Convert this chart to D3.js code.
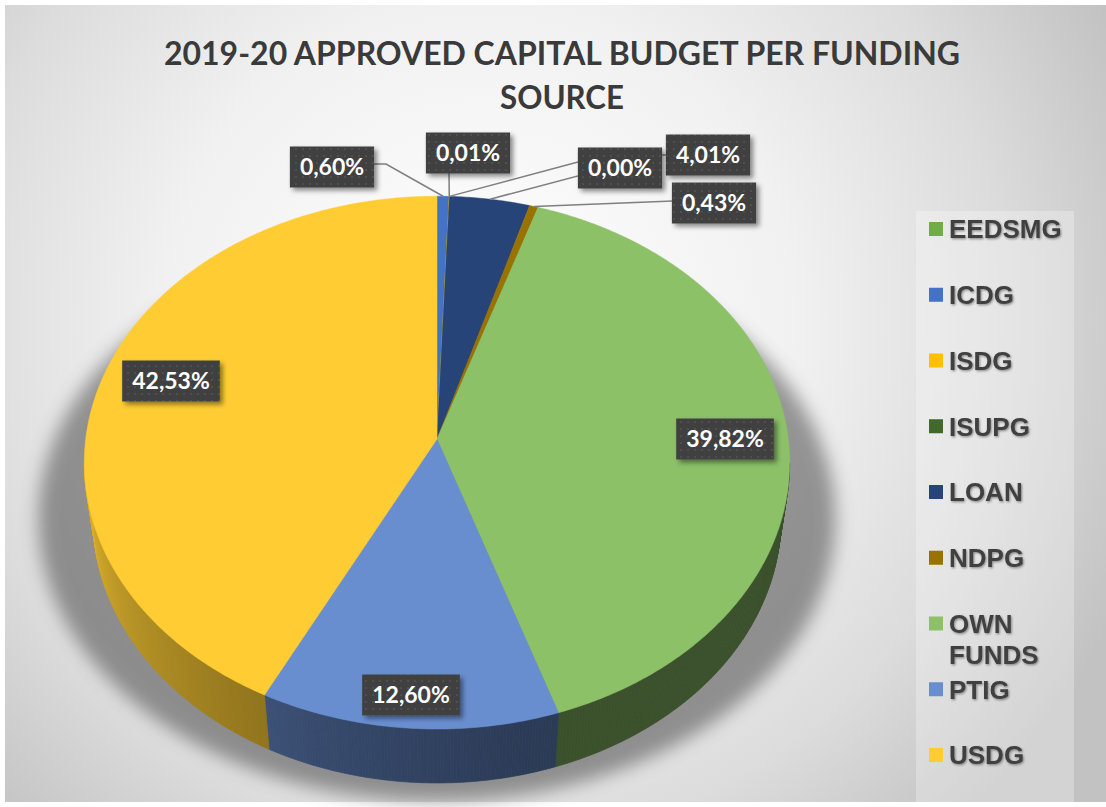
<!DOCTYPE html>
<html>
<head>
<meta charset="utf-8">
<script src="https://cdn.jsdelivr.net/npm/d3@7"></script>
<style>
  html, body { margin: 0; padding: 0; background: #ffffff; }
  svg { display: block; }
</style>
</head>
<body>
<svg id="chart" width="1106" height="807"></svg>
<script>
// ---- data ----
const categories = ["EEDSMG", "ICDG", "ISDG", "ISUPG", "LOAN", "NDPG", "OWN FUNDS", "PTIG", "USDG"];
const shares = [null, 0.60, 0.01, 0.00, 4.01, 0.43, 39.82, 12.60, 42.53];   // % of capital budget
const colors = ["#70AD47", "#4472C4", "#FFC000", "#43682B", "#264478", "#997300", "#8CC168", "#698ED0", "#FFCD33"];
const titleLines = ["2019-20 APPROVED CAPITAL BUDGET PER FUNDING", "SOURCE"];

// ---- label layout (box centres, leader start / elbow points) ----
const labelLayout = {
  "ICDG":      { cx: 332, cy: 167, from: [374, 164], elbow: [386, 164] },
  "ISDG":      { cx: 468, cy: 153, from: [449, 173] },
  "LOAN":      { cx: 708, cy: 155, from: [666, 155], elbow: [657, 155] },
  "ISUPG":     { cx: 620, cy: 168, from: [578, 162] },
  "NDPG":      { cx: 714, cy: 203, from: [673, 201] },
  "OWN FUNDS": { cx: 725, cy: 439 },
  "PTIG":      { cx: 411, cy: 695 },
  "USDG":      { cx: 171, cy: 381 }
};

const W = 1106, H = 807;
const svg = d3.select("#chart");
const defs = svg.append("defs");

// background radial gradient
const bgGrad = defs.append("radialGradient").attr("id", "bgGrad")
  .attr("gradientUnits", "userSpaceOnUse")
  .attr("cx", 480).attr("cy", 320).attr("r", 700);
[[0, "#ffffff"], [0.45, "#f1f1f1"], [0.75, "#dcdcdc"], [1, "#c2c2c2"]]
  .forEach(([o, c]) => bgGrad.append("stop").attr("offset", o).attr("stop-color", c));

// soft shadow under the pie
defs.append("filter").attr("id", "pieShadow")
  .attr("x", "-30%").attr("y", "-30%").attr("width", "160%").attr("height", "160%")
  .append("feGaussianBlur").attr("stdDeviation", 9);

// drop shadow for the value boxes
defs.append("filter").attr("id", "boxShadow")
  .attr("x", "-20%").attr("y", "-30%").attr("width", "150%").attr("height", "180%")
  .append("feDropShadow").attr("dx", 3).attr("dy", 3).attr("stdDeviation", 2.5)
  .attr("flood-color", "#000").attr("flood-opacity", 0.45);

// light text shadow for legend entries
defs.append("filter").attr("id", "textShadow")
  .attr("x", "-10%").attr("y", "-30%").attr("width", "130%").attr("height", "170%")
  .append("feDropShadow").attr("dx", 1).attr("dy", 1.2).attr("stdDeviation", 1.2)
  .attr("flood-color", "#000").attr("flood-opacity", 0.4);

// dotted texture used on the value boxes
const pat = defs.append("pattern").attr("id", "dots")
  .attr("patternUnits", "userSpaceOnUse").attr("width", 7).attr("height", 7);
pat.append("rect").attr("width", 7).attr("height", 7).attr("fill", "#404040");
pat.append("circle").attr("cx", 2).attr("cy", 2).attr("r", 0.9).attr("fill", "#575757");

// ---- background ----
svg.append("rect").attr("width", W).attr("height", H).attr("fill", "#ffffff");
svg.append("rect").attr("x", 5).attr("y", 5).attr("width", W - 5).attr("height", H - 10)
  .attr("fill", "url(#bgGrad)");

// ---- title ----
const titleFont = "Lato, 'Open Sans', sans-serif";
svg.append("text").attr("x", 562).attr("y", 65).attr("text-anchor", "middle")
  .attr("font-family", titleFont).attr("font-weight", 700).attr("font-size", 33)
  .attr("fill", "#3a3a3a").attr("textLength", 796).attr("lengthAdjust", "spacingAndGlyphs")
  .text(titleLines[0]);
svg.append("text").attr("x", 562).attr("y", 109).attr("text-anchor", "middle")
  .attr("font-family", titleFont).attr("font-weight", 700).attr("font-size", 33)
  .attr("fill", "#3a3a3a").attr("textLength", 124).attr("lengthAdjust", "spacingAndGlyphs")
  .text(titleLines[1]);

// ---- 3-D pie projection ----
const cam = { cx: 437, cy: 439, f: 2610, D: 7.43, tilt: 48.8 * Math.PI / 180, depth: 0.25 };
const sT = Math.sin(cam.tilt), cT = Math.cos(cam.tilt);
// theta: clockwise from 12 o'clock, rho: radius fraction, y: 0 top face, -depth bottom
function project(theta, rho, y) {
  const X = rho * Math.sin(theta), Z = -rho * Math.cos(theta);
  const dist = cam.D - (y * sT + Z * cT);
  const up = y * cT - Z * sT;
  return [cam.cx + cam.f * X / dist, cam.cy - cam.f * up / dist];
}
const step = 0.5 * Math.PI / 180;
function rim(a, b, y) {
  const n = Math.max(2, Math.ceil((b - a) / step));
  return d3.range(n + 1).map(i => project(a + (b - a) * i / n, 1, y));
}
const line = d3.line();

const slices = d3.pie().sort(null).value(d => d.value)(
  categories.map((name, i) => ({ name, value: shares[i] == null ? 0 : shares[i], share: shares[i], color: colors[i] }))
);

const pieG = svg.append("g");

// shadow: the pie outline widened and pushed down, then blurred
const outline = rim(0, 2 * Math.PI, 0);
const topY = d3.min(outline, p => p[1]);
pieG.append("path")
  .attr("d", line(outline.map(([x, y]) => [437 + (x - 437) * 1.13, topY + 40 + (y - topY) * 1.06])) + "Z")
  .attr("fill", "#4a4a4a").attr("opacity", 0.55).attr("filter", "url(#pieShadow)");

// outer side walls (front half only)
const thetaSil = Math.acos(-cT / cam.D);
function shadeFactor(theta) {
  const deg = theta * 180 / Math.PI;
  const t = Math.max(0, Math.min(1, (deg - 165) / 95));
  return 0.42 + 0.43 * Math.pow(t, 1.3);
}
const wallG = pieG.append("g");
slices.forEach(s => {
  const a = Math.max(s.startAngle, thetaSil), b = Math.min(s.endAngle, 2 * Math.PI - thetaSil);
  if (b <= a) return;
  const n = Math.max(1, Math.ceil((b - a) / step));
  const quads = d3.range(n).map(i => {
    const t0 = a + (b - a) * i / n, t1 = a + (b - a) * (i + 1) / n;
    return { pts: [project(t0, 1, 0), project(t1, 1, 0), project(t1, 1, -cam.depth), project(t0, 1, -cam.depth)],
             col: d3.interpolateRgb("#000000", s.data.color)(shadeFactor((t0 + t1) / 2)) };
  });
  wallG.selectAll(null).data(quads).enter().append("path")
    .attr("d", q => line(q.pts) + "Z")
    .attr("fill", q => q.col).attr("stroke", q => q.col).attr("stroke-width", 0.7);
});

// top faces
pieG.append("g").selectAll("path").data(slices.filter(s => s.endAngle > s.startAngle)).enter()
  .append("path")
  .attr("d", s => line([project(0, 0, 0), ...rim(s.startAngle, s.endAngle, 0)]) + "Z")
  .attr("fill", s => s.data.color)
  .attr("stroke", s => s.data.color).attr("stroke-width", 0.5);

// ---- value labels ----
const fmt = v => d3.format(".2f")(v).replace(".", ",") + "%";
const labelled = slices.filter(s => s.data.share != null && labelLayout[s.data.name]);
const leaderG = svg.append("g");
const boxG = svg.append("g");

// leader lines first so the boxes sit on top of them
labelled.forEach(s => {
  const L = labelLayout[s.data.name];
  if (!L.from) return;
  const mid = (s.startAngle + s.endAngle) / 2;
  const pts = [L.from];
  if (L.elbow) pts.push(L.elbow);
  pts.push(project(mid, 1, 0));
  leaderG.append("path").attr("d", line(pts))
    .attr("fill", "none").attr("stroke", "#7f7f7f").attr("stroke-width", 1.5);
});

// draw order: LOAN before ISUPG so its leader passes under the 0,00% box
const order = ["ICDG", "ISDG", "LOAN", "ISUPG", "NDPG", "OWN FUNDS", "PTIG", "USDG"];
order.forEach(name => {
  const s = labelled.find(d => d.data.name === name);
  if (!s) return;
  const L = labelLayout[name];
  const g = boxG.append("g");
  const rect = g.append("rect");
  const txt = g.append("text")
    .attr("x", L.cx).attr("y", L.cy).attr("dy", "0.36em")
    .attr("text-anchor", "middle")
    .attr("font-family", "Lato, 'Open Sans', sans-serif").attr("font-weight", 700)
    .attr("font-size", 23).attr("fill", "#ffffff")
    .text(fmt(s.data.share));
  const w = txt.node().getComputedTextLength() + 20;
  rect.attr("x", L.cx - w / 2).attr("y", L.cy - 20.5).attr("width", w).attr("height", 41)
    .attr("fill", "url(#dots)").attr("filter", "url(#boxShadow)");
});

// ---- legend ----
svg.append("rect").attr("x", 916).attr("y", 211).attr("width", 158).attr("height", 591)
  .attr("fill", "#ffffff").attr("opacity", 0.28);
const ly = d3.scaleLinear().domain([0, categories.length - 1]).range([229, 755]);
const leg = svg.append("g").selectAll("g").data(categories).enter().append("g")
  .attr("transform", (d, i) => `translate(929,${ly(i)})`);
leg.append("rect").attr("x", 0).attr("y", -7).attr("width", 14).attr("height", 14)
  .attr("fill", (d, i) => colors[i]);
leg.append("text")
  .attr("x", 20).attr("y", 9.3)
  .attr("font-family", "'Liberation Sans', Arial, sans-serif").attr("font-weight", 700)
  .attr("font-size", 26).attr("fill", "#404040").attr("filter", "url(#textShadow)")
  .each(function (d) {
    const words = d.split(" ");
    const t = d3.select(this);
    words.forEach((wd, k) => t.append("tspan").attr("x", 20).attr("dy", k === 0 ? 0 : 31).text(wd));
  });
</script>
</body>
</html>
